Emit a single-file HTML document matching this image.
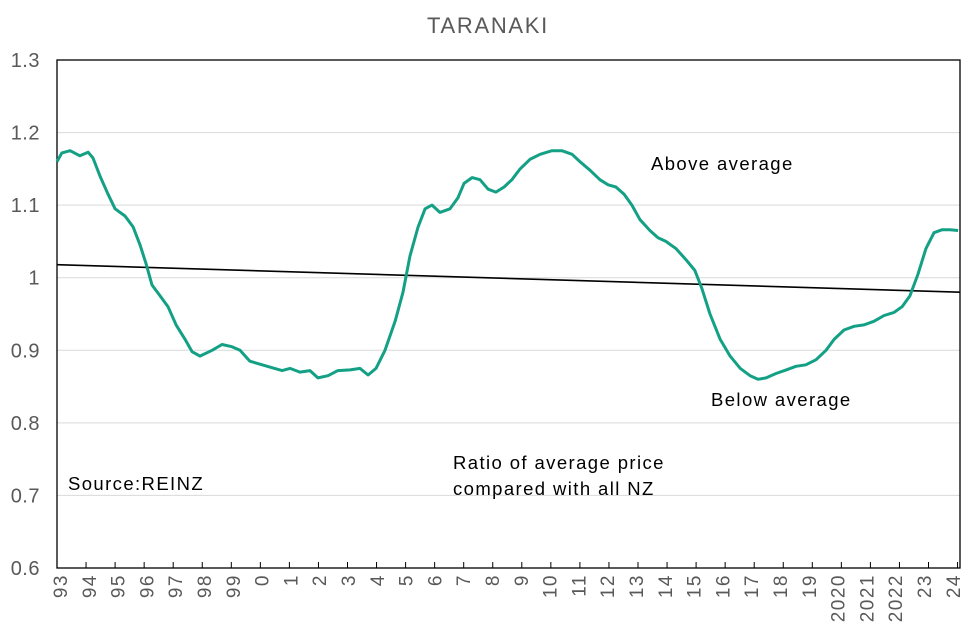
<!DOCTYPE html>
<html><head><meta charset="utf-8"><style>
body{margin:0;background:#fff;}
svg{display:block;font-family:"Liberation Sans",Arial,sans-serif;}
.lbl{font-size:18.5px;letter-spacing:1.4px;fill:#000;}
</style></head><body>
<svg id="chart" width="976" height="637">
<text x="488" y="33" text-anchor="middle" font-size="22" letter-spacing="1.7" fill="#595959">TARANAKI</text>
<g id="grid"></g>
<g id="yticks"></g>
<g id="xticks"></g>
<rect x="57" y="60" width="903" height="508" fill="none" stroke="#000" stroke-width="1.3"/>
<g id="series"></g>
<text class="lbl" x="651" y="170">Above average</text>
<text class="lbl" x="711" y="406">Below average</text>
<text class="lbl" x="453" y="469">Ratio of average price</text>
<text class="lbl" x="453" y="495">compared with all NZ</text>
<text class="lbl" x="68" y="490">Source:REINZ</text>
</svg>
<script>
const yTicks=[0.6,0.7,0.8,0.9,1.0,1.1,1.2,1.3];
const yTickLabels=["0.6","0.7","0.8","0.9","1","1.1","1.2","1.3"];
const xTickLabels=["93","94","95","96","97","98","99","0","1","2","3","4","5","6","7","8","9","10","11","12","13","14","15","16","17","18","19","2020","2021","2022","23","24"];
const years=[1993.00,1993.17,1993.45,1993.79,1994.07,1994.24,1994.48,1994.76,1995.00,1995.34,1995.62,1995.86,1996.06,1996.27,1996.55,1996.82,1997.10,1997.41,1997.65,1997.92,1998.34,1998.68,1999.02,1999.30,1999.64,2000.06,2000.40,2000.75,2001.02,2001.36,2001.71,2001.98,2002.33,2002.67,2003.09,2003.43,2003.71,2003.98,2004.29,2004.64,2004.91,2005.15,2005.43,2005.67,2005.91,2006.18,2006.53,2006.80,2007.01,2007.29,2007.56,2007.84,2008.11,2008.39,2008.66,2008.94,2009.28,2009.63,2010.04,2010.38,2010.73,2011.00,2011.35,2011.69,2011.97,2012.24,2012.52,2012.79,2013.07,2013.41,2013.69,2013.96,2014.31,2014.65,2014.96,2015.20,2015.48,2015.83,2016.17,2016.52,2016.86,2017.13,2017.41,2017.75,2018.10,2018.44,2018.78,2019.13,2019.47,2019.75,2020.09,2020.44,2020.78,2021.12,2021.47,2021.81,2022.09,2022.36,2022.64,2022.91,2023.19,2023.46,2023.74,2024.02];
const ratios=[1.160,1.172,1.175,1.168,1.173,1.165,1.140,1.115,1.095,1.085,1.070,1.045,1.020,0.990,0.975,0.960,0.935,0.915,0.898,0.892,0.900,0.908,0.905,0.900,0.885,0.880,0.876,0.872,0.875,0.870,0.872,0.862,0.865,0.872,0.873,0.875,0.866,0.875,0.900,0.940,0.980,1.030,1.070,1.095,1.100,1.090,1.095,1.110,1.130,1.138,1.135,1.122,1.118,1.125,1.135,1.150,1.163,1.170,1.175,1.175,1.170,1.160,1.148,1.135,1.128,1.125,1.115,1.100,1.080,1.065,1.055,1.050,1.040,1.025,1.010,0.985,0.950,0.915,0.892,0.875,0.865,0.860,0.862,0.868,0.873,0.878,0.880,0.887,0.900,0.915,0.928,0.933,0.935,0.940,0.948,0.952,0.960,0.975,1.005,1.040,1.062,1.066,1.066,1.065];
const trendYears=[1993.0,2024.09];
const trendValues=[1.018,0.980];

const NS="http://www.w3.org/2000/svg";
const L=57,R=960,T=60,B=568;
const y=v=>B-(v-0.6)/0.7*(B-T);
const x=yr=>L+(yr-1993)*29.05;
function mk(t,a,p){const e=document.createElementNS(NS,t);for(const k in a)e.setAttribute(k,a[k]);p.appendChild(e);return e;}
const grid=document.getElementById('grid'),yt=document.getElementById('yticks'),xt=document.getElementById('xticks'),ser=document.getElementById('series');
yTicks.forEach((v,i)=>{
  if(i>0&&i<yTicks.length-1){const g=mk('line',{x1:L,x2:R,y1:y(v),y2:y(v),stroke:'#d9d9d9','stroke-width':1},grid);
  
  }
  const t=mk('text',{x:40,y:y(v)+7,'text-anchor':'end','font-size':20,'letter-spacing':0.5,fill:'#595959'},yt);
  t.textContent=yTickLabels[i];
  
  
});
xTickLabels.forEach((lab,i)=>{
  const px=x(1993+i);
  const tk=mk('line',{x1:px,x2:px,y1:B-6,y2:B,stroke:'#000','stroke-width':1},xt);
  
  
  const t=mk('text',{x:0,y:0,'text-anchor':'end','font-size':19,'letter-spacing':1.5,fill:'#595959',transform:`translate(${px+10-i*0.25},574) rotate(-90)`},xt);
  t.textContent=lab;
  
  
});
const tr=mk('line',{x1:x(trendYears[0]),y1:y(trendValues[0]),x2:x(trendYears[1]),y2:y(trendValues[1]),stroke:'#000','stroke-width':1.6},ser);


const p=mk('polyline',{points:years.map((yr,i)=>x(yr).toFixed(1)+','+y(ratios[i]).toFixed(1)).join(' '),fill:'none',stroke:'#13a085','stroke-width':3,'stroke-linejoin':'round'},ser);


</script>
</body></html>
